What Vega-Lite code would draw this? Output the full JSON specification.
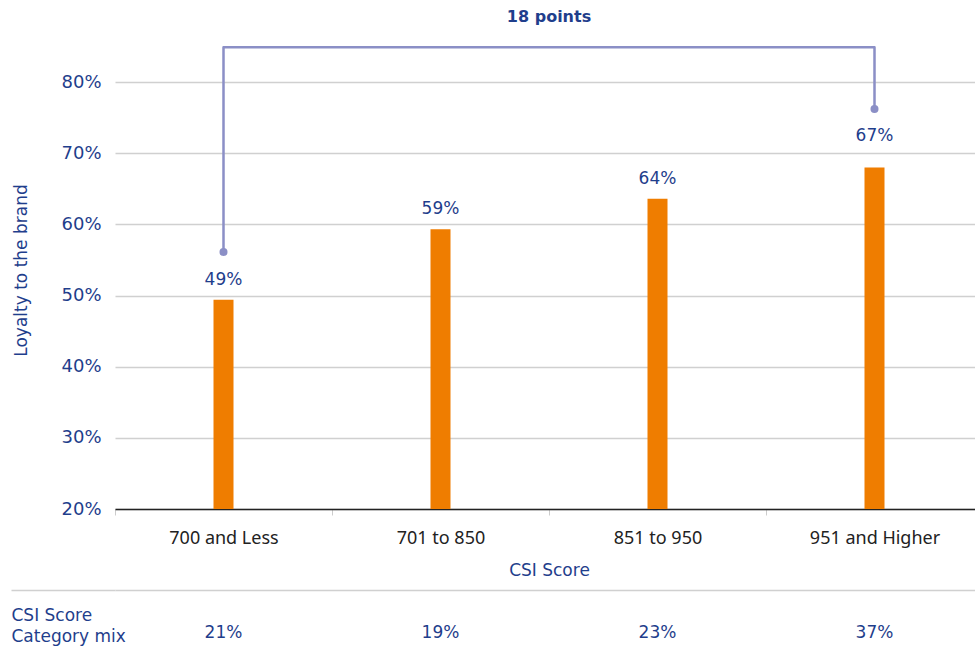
{
  "$schema": "https://vega.github.io/schema/vega-lite/v6.json",
  "background": "white",
  "padding": {"left": 10, "top": 9, "right": 0, "bottom": 0},
  "spacing": 11,
  "config": {"view": {"stroke": null}, "font": "DejaVu Sans"},
  "datasets": {
    "bars": [
      {"score": "700 and Less", "loyalty": 49.4, "label": "49%", "mix": "21%"},
      {"score": "701 to 850", "loyalty": 59.3, "label": "59%", "mix": "19%"},
      {"score": "851 to 950", "loyalty": 63.6, "label": "64%", "mix": "23%"},
      {"score": "951 and Higher", "loyalty": 68.0, "label": "67%", "mix": "37%"}
    ],
    "bracket": [
      {"score": "700 and Less", "level": 56.1, "step": 1},
      {"score": "700 and Less", "level": 84.9, "step": 2},
      {"score": "951 and Higher", "level": 84.9, "step": 3},
      {"score": "951 and Higher", "level": 76.2, "step": 4}
    ],
    "ends": [
      {"score": "700 and Less", "level": 56.1},
      {"score": "951 and Higher", "level": 76.2}
    ],
    "note": [{"text": "18 points", "level": 89.1}]
  },
  "resolve": {"scale": {"x": "independent", "y": "independent"}},
  "vconcat": [
    {
      "width": 868,
      "height": 427,
      "layer": [
        {
          "data": {"name": "bars"},
          "mark": {"type": "bar", "width": 20, "color": "#EF7D00"},
          "encoding": {
            "x": {
              "field": "score", "type": "nominal", "sort": null,
              "scale": {"paddingInner": 0, "paddingOuter": 0},
              "axis": {
                "title": "CSI Score", "labelAngle": 0, "labelFont": "Noto Sans", "labelFontSize": 18,
                "labelColor": "#222222", "labelPadding": 14, "tickBand": "extent", "tickSize": 6,
                "tickColor": "#cccccc", "domainColor": "#222222", "domainWidth": 1.5,
                "titleColor": "#1f3e8c", "titleFontSize": 17, "titleFontWeight": "normal", "titlePadding": 15
              }
            },
            "y": {
              "field": "loyalty", "type": "quantitative",
              "scale": {"domain": [20, 80], "nice": false, "zero": false},
              "axis": {
                "values": [20, 30, 40, 50, 60, 70, 80], "labelExpr": "datum.value + '%'",
                "title": "Loyalty to the brand", "domain": false, "ticks": false, "labelPadding": 14,
                "labelColor": "#1f3e8c", "labelFontSize": 18, "gridColor": "#d0d0d0", "gridWidth": 1.5,
                "titleColor": "#1f3e8c", "titleFontSize": 17, "titleFontWeight": "normal",
                "titleX": -94, "titleY": 188, "titleBaseline": "middle"
              }
            },
            "y2": {"datum": 20}
          }
        },
        {
          "data": {"name": "bars"},
          "transform": [{"filter": "datum.score != '951 and Higher'"}],
          "mark": {"type": "text", "dy": -20, "fontSize": 17, "color": "#1f3e8c"},
          "encoding": {
            "x": {"field": "score", "type": "nominal", "sort": null},
            "y": {"field": "loyalty", "type": "quantitative"},
            "text": {"field": "label"}
          }
        },
        {
          "data": {"name": "bars"},
          "transform": [{"filter": "datum.score == '951 and Higher'"}],
          "mark": {"type": "text", "dy": -31, "fontSize": 17, "color": "#1f3e8c"},
          "encoding": {
            "x": {"field": "score", "type": "nominal", "sort": null},
            "y": {"field": "loyalty", "type": "quantitative"},
            "text": {"field": "label"}
          }
        },
        {
          "data": {"name": "bracket"},
          "mark": {"type": "line", "color": "#8b8fc6", "strokeWidth": 2.5, "strokeJoin": "round"},
          "encoding": {
            "x": {"field": "score", "type": "nominal", "sort": null},
            "y": {"field": "level", "type": "quantitative"},
            "order": {"field": "step", "type": "quantitative"}
          }
        },
        {
          "data": {"name": "ends"},
          "mark": {"type": "point", "filled": true, "opacity": 1, "size": 64, "color": "#8b8fc6"},
          "encoding": {
            "x": {"field": "score", "type": "nominal", "sort": null},
            "y": {"field": "level", "type": "quantitative"}
          }
        },
        {
          "data": {"name": "note"},
          "mark": {"type": "text", "fontSize": 16, "fontWeight": "bold", "color": "#1f3e8c"},
          "encoding": {
            "y": {"field": "level", "type": "quantitative"},
            "text": {"field": "text"}
          }
        }
      ]
    },
    {
      "width": 868,
      "height": 56,
      "data": {"name": "bars"},
      "mark": {"type": "text", "fontSize": 17, "color": "#1f3e8c", "baseline": "middle"},
      "encoding": {
        "x": {
          "field": "score", "type": "nominal", "sort": null,
          "scale": {"paddingInner": 0, "paddingOuter": 0}, "axis": null
        },
        "y": {
          "datum": 0.232, "type": "quantitative",
          "scale": {"domain": [0, 1], "nice": false, "zero": false},
          "axis": {
            "values": [1], "labels": false, "domain": false, "grid": true,
            "gridColor": "#d0d0d0", "gridWidth": 1.5, "tickSize": 104, "tickColor": "#d0d0d0", "tickWidth": 1.5,
            "title": ["CSI Score", "Category mix"], "titleAngle": 0, "titleAlign": "left",
            "titleBaseline": "top", "titleX": -104, "titleY": 17, "titleLineHeight": 21,
            "titleColor": "#1f3e8c", "titleFontSize": 17, "titleFontWeight": "normal"
          }
        },
        "text": {"field": "mix"}
      }
    }
  ]
}
